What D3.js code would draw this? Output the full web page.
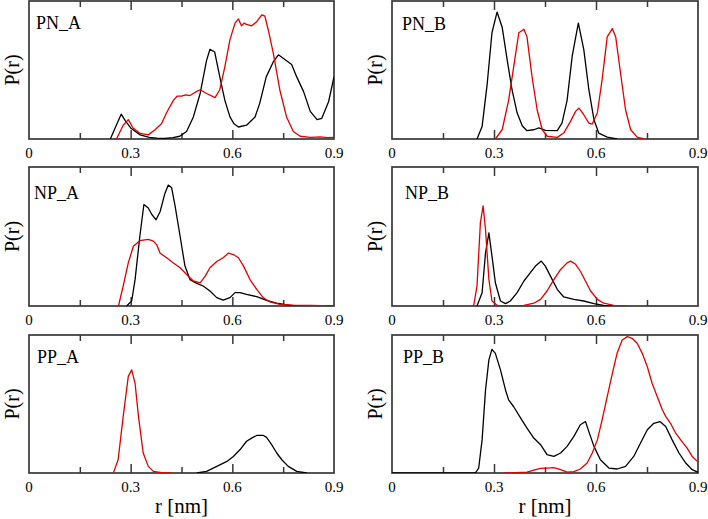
<!DOCTYPE html>
<html>
<head>
<meta charset="utf-8">
<script src="https://cdn.jsdelivr.net/npm/d3@7"></script>
<style>
html,body{margin:0;padding:0;background:#fff;}
svg{display:block;}
text{font-family:"Liberation Serif","Times New Roman",serif;fill:#000;}
</style>
</head>
<body>
<svg id="chart" width="708" height="519"></svg>
<script>
// ---- data (r in nm, normalized P(r)) ----
const panelNames = ["PN_A","PN_B","NP_A","NP_B","PP_A","PP_B"];
const xTickLabels = [0, 0.3, 0.6, 0.9];
const xMajorTicks = [0.3, 0.6];
const xMinorTicks = [0.15, 0.45, 0.75];

const pnA_black = [[0.24,0],[0.256,0.09],[0.272,0.18],[0.285,0.13],[0.3,0.08],[0.328,0.03],[0.355,0.012],[0.377,0.007],[0.40,0.005],[0.425,0.01],[0.445,0.02],[0.465,0.055],[0.485,0.16],[0.505,0.33],[0.524,0.57],[0.534,0.65],[0.548,0.63],[0.563,0.45],[0.578,0.28],[0.593,0.16],[0.605,0.11],[0.618,0.087],[0.642,0.10],[0.667,0.16],[0.681,0.26],[0.70,0.45],[0.721,0.56],[0.736,0.61],[0.75,0.585],[0.775,0.54],[0.79,0.45],[0.81,0.345],[0.83,0.20],[0.85,0.14],[0.864,0.15],[0.884,0.27],[0.9,0.45]];
const pnA_red = [[0.258,0],[0.278,0.10],[0.293,0.14],[0.307,0.08],[0.328,0.04],[0.352,0.03],[0.372,0.067],[0.391,0.11],[0.406,0.19],[0.426,0.28],[0.437,0.31],[0.45,0.31],[0.462,0.32],[0.475,0.315],[0.485,0.33],[0.495,0.345],[0.505,0.357],[0.524,0.33],[0.549,0.30],[0.563,0.357],[0.578,0.525],[0.593,0.72],[0.608,0.84],[0.618,0.87],[0.627,0.82],[0.635,0.84],[0.642,0.83],[0.657,0.82],[0.672,0.85],[0.687,0.90],[0.696,0.89],[0.706,0.79],[0.721,0.62],[0.74,0.357],[0.76,0.16],[0.78,0.055],[0.80,0.02],[0.83,0.012],[0.86,0.015],[0.88,0.01],[0.9,0.012]];

const pnB_black = [[0.25,0],[0.265,0.09],[0.28,0.40],[0.294,0.77],[0.309,0.92],[0.324,0.81],[0.339,0.57],[0.353,0.357],[0.368,0.19],[0.383,0.096],[0.397,0.06],[0.417,0.067],[0.432,0.08],[0.451,0.063],[0.486,0.06],[0.50,0.115],[0.515,0.28],[0.53,0.60],[0.548,0.84],[0.564,0.65],[0.579,0.357],[0.594,0.14],[0.608,0.043],[0.633,0.014],[0.662,0]];
const pnB_red = [[0.304,0],[0.324,0.067],[0.343,0.28],[0.358,0.525],[0.373,0.77],[0.388,0.795],[0.397,0.74],[0.412,0.45],[0.427,0.21],[0.442,0.067],[0.456,0.02],[0.486,0.012],[0.505,0.043],[0.525,0.128],[0.54,0.20],[0.55,0.224],[0.564,0.176],[0.579,0.115],[0.589,0.108],[0.604,0.19],[0.618,0.43],[0.633,0.74],[0.648,0.80],[0.658,0.74],[0.672,0.48],[0.687,0.21],[0.702,0.067],[0.721,0.014],[0.741,0]];

const npA_black = [[0.288,0],[0.303,0.036],[0.313,0.19],[0.327,0.50],[0.339,0.73],[0.352,0.705],[0.362,0.66],[0.375,0.62],[0.387,0.68],[0.401,0.81],[0.411,0.87],[0.421,0.85],[0.431,0.72],[0.446,0.50],[0.46,0.29],[0.475,0.19],[0.495,0.163],[0.514,0.144],[0.534,0.108],[0.554,0.06],[0.573,0.043],[0.593,0.06],[0.608,0.096],[0.623,0.096],[0.642,0.084],[0.672,0.067],[0.701,0.04],[0.731,0.02],[0.77,0.005],[0.9,0]];
const npA_red = [[0.264,0],[0.278,0.144],[0.293,0.31],[0.308,0.43],[0.327,0.47],[0.352,0.48],[0.367,0.467],[0.377,0.44],[0.387,0.38],[0.406,0.347],[0.426,0.31],[0.446,0.275],[0.465,0.227],[0.485,0.18],[0.505,0.167],[0.52,0.215],[0.534,0.275],[0.554,0.32],[0.573,0.347],[0.588,0.38],[0.603,0.37],[0.618,0.347],[0.633,0.287],[0.652,0.19],[0.672,0.12],[0.691,0.06],[0.711,0.029],[0.74,0.012],[0.78,0.007],[0.83,0.005],[0.9,0]];

const npB_black = [[0.25,0],[0.265,0.096],[0.275,0.38],[0.285,0.526],[0.294,0.36],[0.304,0.167],[0.319,0.036],[0.334,0.017],[0.348,0.036],[0.368,0.096],[0.388,0.18],[0.407,0.24],[0.422,0.287],[0.439,0.323],[0.451,0.287],[0.466,0.215],[0.486,0.12],[0.505,0.065],[0.535,0.048],[0.564,0.036],[0.594,0.017],[0.623,0.005],[0.65,0]];
const npB_red = [[0.24,0],[0.25,0.144],[0.26,0.60],[0.268,0.72],[0.275,0.55],[0.285,0.19],[0.294,0.036],[0.309,0.005],[0.358,0],[0.388,0.005],[0.417,0.02],[0.437,0.048],[0.456,0.108],[0.476,0.19],[0.496,0.263],[0.515,0.31],[0.525,0.323],[0.54,0.30],[0.554,0.25],[0.569,0.18],[0.584,0.108],[0.604,0.048],[0.623,0.02],[0.652,0.005],[0.69,0]];

const ppA_black = [[0.495,0],[0.524,0.012],[0.554,0.048],[0.584,0.084],[0.603,0.12],[0.623,0.17],[0.642,0.23],[0.657,0.253],[0.672,0.272],[0.692,0.272],[0.701,0.258],[0.716,0.205],[0.731,0.145],[0.746,0.096],[0.765,0.048],[0.79,0.012],[0.82,0]];
const ppA_red = [[0.249,0],[0.263,0.096],[0.278,0.41],[0.293,0.70],[0.303,0.747],[0.313,0.65],[0.323,0.41],[0.337,0.145],[0.352,0.048],[0.367,0.012],[0.396,0],[0.42,0]];

const ppB_black = [[0,0],[0.245,0],[0.255,0.036],[0.265,0.24],[0.275,0.60],[0.285,0.82],[0.294,0.896],[0.304,0.867],[0.319,0.747],[0.334,0.60],[0.343,0.53],[0.358,0.48],[0.378,0.40],[0.397,0.325],[0.417,0.253],[0.437,0.205],[0.456,0.133],[0.476,0.12],[0.496,0.145],[0.515,0.193],[0.535,0.265],[0.554,0.35],[0.569,0.373],[0.579,0.30],[0.594,0.193],[0.613,0.096],[0.638,0.036],[0.662,0.029],[0.687,0.048],[0.711,0.12],[0.731,0.217],[0.751,0.313],[0.77,0.36],[0.788,0.373],[0.805,0.337],[0.824,0.24],[0.844,0.145],[0.864,0.072],[0.883,0.024],[0.9,0.005]];
const ppB_red = [[0.33,0],[0.348,0],[0.397,0.007],[0.417,0.02],[0.437,0.034],[0.456,0.036],[0.476,0.039],[0.496,0.024],[0.515,0.007],[0.535,0.01],[0.554,0.029],[0.574,0.072],[0.589,0.145],[0.604,0.24],[0.618,0.385],[0.633,0.554],[0.648,0.72],[0.662,0.867],[0.677,0.964],[0.692,0.988],[0.706,0.976],[0.721,0.94],[0.736,0.867],[0.751,0.77],[0.765,0.65],[0.78,0.554],[0.795,0.458],[0.805,0.41],[0.819,0.36],[0.834,0.29],[0.849,0.24],[0.868,0.18],[0.883,0.12],[0.898,0.084]];

const seriesBlack = [pnA_black, pnB_black, npA_black, npB_black, ppA_black, ppB_black];
const seriesRed   = [pnA_red,   pnB_red,   npA_red,   npB_red,   ppA_red,   ppB_red];

// ---- layout ----
const cols = [[29, 334], [392, 698]];
const rows = [[1, 139], [167, 306], [335, 473]];
const labelOffsets = [[7, 28], [10, 29], [5, 32], [13, 32], [8, 28], [11, 28]];
const serif = '"Liberation Serif","Times New Roman",serif';

const svg = d3.select("#chart");

panelNames.forEach((name, i) => {
  const c = cols[i % 2], r = rows[Math.floor(i / 2)];
  const x = d3.scaleLinear().domain([0, 0.9]).range(c);
  const y = d3.scaleLinear().domain([0, 1]).range([r[1], r[0]]);
  const g = svg.append("g");

  const clipId = "clip" + i;
  g.append("clipPath").attr("id", clipId).append("rect")
    .attr("x", c[0]).attr("y", r[0] - 2).attr("width", c[1] - c[0]).attr("height", r[1] - r[0] + 2);

  // frame
  g.append("rect").attr("x", c[0]).attr("y", r[0]).attr("width", c[1] - c[0]).attr("height", r[1] - r[0])
    .attr("fill", "none").attr("stroke", "#383838").attr("stroke-width", 1.7);

  // ticks (inward, top and bottom)
  const addTicks = (axisFn, pos, vals, size) => {
    const a = g.append("g").attr("transform", `translate(0,${pos})`)
      .call(axisFn(x).tickValues(vals).tickSize(size).tickFormat(""));
    a.select(".domain").remove();
    a.selectAll("text").remove();
    a.selectAll("line").attr("stroke", "#383838").attr("stroke-width", 1.5);
  };
  addTicks(d3.axisBottom, r[1], xMajorTicks, -9);
  addTicks(d3.axisBottom, r[1], xMinorTicks, -6);
  addTicks(d3.axisTop, r[0], xMajorTicks, -9);
  addTicks(d3.axisTop, r[0], xMinorTicks, -6);

  // tick labels
  g.append("g").selectAll("text").data(xTickLabels).join("text")
    .attr("x", d => x(d)).attr("y", r[1] + 19)
    .attr("text-anchor", "middle")
    .style("font-family", serif).style("font-size", "15px")
    .text(d => d === 0 ? "0" : d3.format(".1f")(d));

  // curves
  const line = d3.line().x(d => x(d[0])).y(d => y(d[1])).curve(d3.curveLinear);
  const cg = g.append("g").attr("clip-path", `url(#${clipId})`);
  cg.append("path").datum(seriesBlack[i]).attr("d", line)
    .attr("fill", "none").attr("stroke", "#000").attr("stroke-width", 1.3).attr("stroke-linejoin", "round");
  cg.append("path").datum(seriesRed[i]).attr("d", line)
    .attr("fill", "none").attr("stroke", "#e00000").attr("stroke-width", 1.3).attr("stroke-linejoin", "round");

  // panel label
  g.append("text").attr("x", c[0] + labelOffsets[i][0]).attr("y", r[0] + labelOffsets[i][1])
    .style("font-family", serif).style("font-size", "18px").text(name);

  // y title
  g.append("text")
    .attr("transform", `translate(${c[0] - 16.5},${(r[0] + r[1]) / 2}) rotate(-90)`)
    .attr("text-anchor", "middle").attr("dy", "0.3em")
    .style("font-family", serif).style("font-size", "20px").text("P(r)");

  // x title (bottom row)
  if (Math.floor(i / 2) === 2) {
    g.append("text").attr("x", (c[0] + c[1]) / 2).attr("y", 513)
      .attr("text-anchor", "middle")
      .style("font-family", serif).style("font-size", "21px").text("r [nm]");
  }
});
</script>
</body>
</html>
